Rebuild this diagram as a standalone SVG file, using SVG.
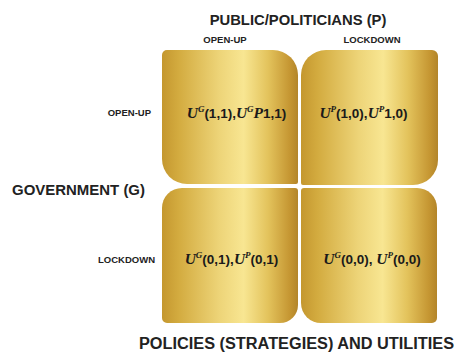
<svg xmlns="http://www.w3.org/2000/svg" width="457" height="353" viewBox="0 0 457 353">
  <defs>
    <!-- brushed gold fill, light band right of centre -->
    <linearGradient id="gold" x1="0" y1="0" x2="1" y2="0">
      <stop offset="0" stop-color="#c4972f"/>
      <stop offset="0.12" stop-color="#d3ab3f"/>
      <stop offset="0.42" stop-color="#edd478"/>
      <stop offset="0.6" stop-color="#f8e692"/>
      <stop offset="0.78" stop-color="#e3c35c"/>
      <stop offset="0.94" stop-color="#c59632"/>
      <stop offset="1" stop-color="#b3852a"/>
    </linearGradient>
    <style>
      .cell { fill: url(#gold); }
      .lbl { font-family: "Liberation Sans", Arial, sans-serif; font-weight: bold; fill: #222; }
      .big { font-size: 14.8px; }
      .huge { font-size: 16px; }
      .small { font-size: 9.5px; }
      .f { font-family: "Liberation Sans", Arial, sans-serif; font-weight: bold; font-size: 13.5px; fill: #1a1a1a; }
      .u { font-family: "Liberation Serif", "Times New Roman", serif; font-style: italic; font-weight: bold; font-size: 15.5px; }
      .sup { font-family: "Liberation Serif", "Times New Roman", serif; font-style: italic; font-weight: bold; font-size: 9px; }
    </style>
  </defs>

  <rect width="457" height="353" fill="#ffffff"/>

  <!-- headings -->
  <text class="lbl big" x="298" y="25" text-anchor="middle">PUBLIC/POLITICIANS (P)</text>
  <text class="lbl small" x="225" y="43" text-anchor="middle">OPEN-UP</text>
  <text class="lbl small" x="372" y="43" text-anchor="middle">LOCKDOWN</text>
  <text class="lbl small" x="151" y="116" text-anchor="end">OPEN-UP</text>
  <text class="lbl big" x="12" y="195" textLength="133" lengthAdjust="spacingAndGlyphs">GOVERNMENT (G)</text>
  <text class="lbl small" x="155" y="263" text-anchor="end">LOCKDOWN</text>
  <text class="lbl huge" x="139" y="349" textLength="315" lengthAdjust="spacingAndGlyphs">POLICIES (STRATEGIES) AND UTILITIES</text>

  <!-- payoff cells -->
  <g id="cell-open-open">
    <path class="cell" d="M167,50 H273 A25,25 0 0 1 298,75 V182 A2,2 0 0 1 296,184 H187 A25,25 0 0 1 162,159 V55 A5,5 0 0 1 167,50 Z"/>
    <text class="f" x="236.5" y="118" text-anchor="middle"><tspan class="u">U</tspan><tspan class="sup" dy="-6">G</tspan><tspan dy="6">(1,1),</tspan><tspan class="u">U</tspan><tspan class="sup" dy="-6">G</tspan><tspan class="u" dy="6">P</tspan><tspan>1,1)</tspan></text>
  </g>
  <g id="cell-open-lock">
    <path class="cell" d="M326,50 H432 A6,6 0 0 1 438,56 V160 A25,25 0 0 1 413,185 H303 A2,2 0 0 1 301,183 V75 A25,25 0 0 1 326,50 Z"/>
    <text class="f" x="363.5" y="118" text-anchor="middle"><tspan class="u">U</tspan><tspan class="sup" dy="-6">P</tspan><tspan dy="6">(1,0),</tspan><tspan class="u">U</tspan><tspan class="sup" dy="-6">P</tspan><tspan dy="6">1,0)</tspan></text>
  </g>
  <g id="cell-lock-open">
    <path class="cell" d="M182,188 H295 A3,3 0 0 1 298,191 V305 A18,18 0 0 1 280,323 H167 A5,5 0 0 1 162,318 V208 A20,20 0 0 1 182,188 Z"/>
    <text class="f" x="231.5" y="264" text-anchor="middle"><tspan class="u">U</tspan><tspan class="sup" dy="-6">G</tspan><tspan dy="6">(0,1),</tspan><tspan class="u">U</tspan><tspan class="sup" dy="-6">P</tspan><tspan dy="6">(0,1)</tspan></text>
  </g>
  <g id="cell-lock-lock">
    <path class="cell" d="M304,188 H417 A20,20 0 0 1 437,208 V318 A5,5 0 0 1 432,323 H321 A20,20 0 0 1 301,303 V191 A3,3 0 0 1 304,188 Z"/>
    <text class="f" x="372" y="264" text-anchor="middle"><tspan class="u">U</tspan><tspan class="sup" dy="-6">G</tspan><tspan dy="6">(0,0), </tspan><tspan class="u">U</tspan><tspan class="sup" dy="-6">P</tspan><tspan dy="6">(0,0)</tspan></text>
  </g>

  <!-- no connectors in this matrix -->
  <g id="connectors"/>
</svg>
